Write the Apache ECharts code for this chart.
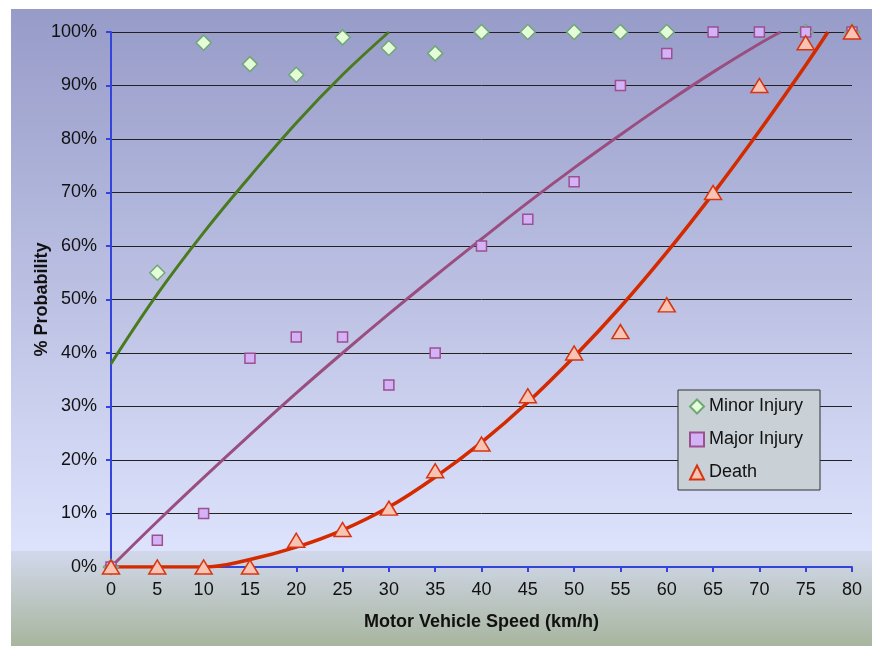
<!DOCTYPE html>
<html>
<head>
<meta charset="utf-8">
<script src="https://cdn.jsdelivr.net/npm/echarts@6/dist/echarts.min.js"></script>
<style>html,body{margin:0;padding:0;background:#fff;}#c{width:872px;height:646px;}</style>
</head>
<body>
<div id="c"></div>
<script>
// Speeds (km/h)
const speeds = [0, 5, 10, 15, 20, 25, 30, 35, 40, 45, 50, 55, 60, 65, 70, 75, 80];
// Observed probabilities (%)
const minorInjury = [0, 55, 98, 94, 92, 99, 97, 96, 100, 100, 100, 100, 100, null, null, 100, 100];
const majorInjury = [0, 5, 10, 39, 43, 43, 34, 40, 60, 65, 72, 90, 96, 100, 100, 100, 100];
const death       = [0, 0, 0, 0, 5, 7, 11, 18, 23, 32, 40, 44, 49, 70, 90, 98, 100];
// Trendlines: [speed, %]
const minorTrend = [[0, 38], [5, 51], [10, 62.5], [15, 73], [20, 83], [25, 92], [30, 100]];
const majorTrend = [[0, 0], [5, 8.5], [10, 16.7], [15, 24.7], [20, 32.5], [25, 40], [30, 47.3], [35, 54.4], [40, 61.3], [45, 68.1], [50, 74.6], [55, 80.8], [60, 86.8], [65, 92.5], [70, 97.8], [72.3, 100]];
const deathTrend = [[0, 0], [5, 0], [10, 0], [15, 1.4], [20, 3.7], [25, 6.9], [30, 11.2], [35, 16.8], [40, 23.3], [45, 30.8], [50, 39.3], [55, 48.6], [60, 58.8], [65, 69.8], [70, 81.5], [75, 93.8], [77.4, 100]];
const seriesNames = ['Minor Injury', 'Major Injury', 'Death'];

const pair = (vals) => speeds.map((s, i) => vals[i] === null ? null : [s, vals[i]]).filter(p => p);

const chart = echarts.init(document.getElementById('c'), null, {renderer: 'canvas'});
const font = '"Liberation Sans", Arial, Helvetica, sans-serif';
chart.setOption({
  animation: false,
  textStyle: {fontFamily: font},
  graphic: [{
    type: 'rect', z: -10, silent: true,
    shape: {x: 11, y: 9, width: 861, height: 637},
    style: {fill: new echarts.graphic.LinearGradient(0, 0, 0, 1, [
      {offset: 0, color: '#979bc8'},
      {offset: 0.85, color: '#dde3fc'},
      {offset: 0.851, color: '#d2d8ec'},
      {offset: 1, color: '#a8b59e'}
    ])}
  }],
  grid: {left: 111, top: 32, right: 20, bottom: 79, containLabel: false},
  legend: {
    data: seriesNames.map(n => ({name: n})),
    orient: 'vertical',
    left: 678, top: 390,
    padding: [7, 17, 8, 11],
    itemGap: 14,
    itemWidth: 14, itemHeight: 14,
    backgroundColor: '#c9d1d6',
    borderColor: '#333',
    borderWidth: 1,
    borderRadius: 0,
    textStyle: {fontSize: 18, color: '#111', fontFamily: font, lineHeight: 19}
  },
  xAxis: {
    type: 'value', min: 0, max: 80, interval: 5,
    name: 'Motor Vehicle Speed (km/h)', nameLocation: 'middle', nameGap: 46,
    nameMoveOverlap: false,
    nameTextStyle: {fontSize: 18, fontWeight: 'bold', color: '#111'},
    axisLine: {lineStyle: {color: '#3344dd', width: 2}},
    axisTick: {show: true, length: 5, lineStyle: {color: '#3344dd', width: 2}},
    axisLabel: {fontSize: 18, color: '#111', margin: 14},
    splitLine: {show: false}
  },
  yAxis: {
    type: 'value', min: 0, max: 100, interval: 10,
    name: '% Probability', nameLocation: 'middle', nameGap: 60, nameRotate: 90,
    nameMoveOverlap: false,
    nameTextStyle: {fontSize: 18, fontWeight: 'bold', color: '#111'},
    axisLine: {show: true, lineStyle: {color: '#3344dd', width: 2}},
    axisTick: {show: true, length: 5, lineStyle: {color: '#3344dd', width: 2}},
    axisLabel: {fontSize: 18, color: '#111', margin: 14, formatter: '{value}%'},
    splitLine: {show: true, lineStyle: {color: '#222', width: 1}}
  },
  series: [
    {type: 'line', name: 'minorTrend', data: minorTrend, smooth: 0.4, showSymbol: false, lineStyle: {color: '#4a7a1e', width: 3}, z: 2, clip: true},
    {type: 'line', name: 'majorTrend', data: majorTrend, smooth: 0.4, showSymbol: false, lineStyle: {color: '#9a4e80', width: 3}, z: 2, clip: true},
    {type: 'line', name: 'deathTrend', data: deathTrend, smooth: 0.4, showSymbol: false, lineStyle: {color: '#d42a00', width: 3.5}, z: 2, clip: true},
    {type: 'scatter', name: 'Minor Injury', data: pair(minorInjury), symbol: 'diamond', symbolSize: 15,
      itemStyle: {color: '#e4fdd6', borderColor: '#6fa877', borderWidth: 1.5, opacity: 1}, z: 3},
    {type: 'scatter', name: 'Major Injury', data: pair(majorInjury), symbol: 'rect', symbolSize: 10,
      itemStyle: {color: '#d3b2f7', borderColor: '#9b5090', borderWidth: 1.5, opacity: 1}, z: 4},
    {type: 'scatter', name: 'Death', data: pair(death), symbol: 'triangle', symbolSize: [17, 14],
      itemStyle: {color: '#f8c3b3', borderColor: '#d63510', borderWidth: 1.5, opacity: 1}, z: 5}
  ]
});
</script>
</body>
</html>
